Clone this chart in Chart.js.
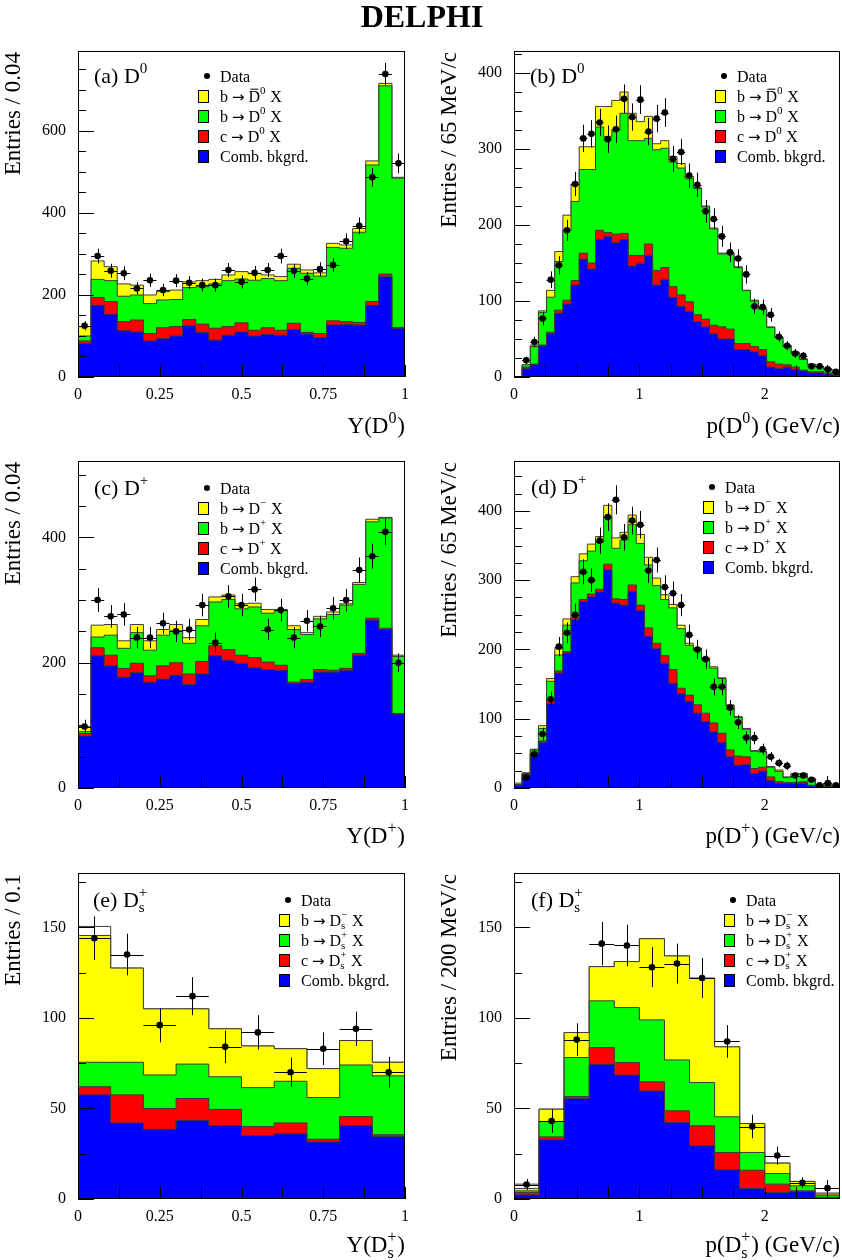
<!DOCTYPE html>
<html lang="en">
<head>
<meta charset="UTF-8">
<title>DELPHI - D meson spectra</title>
<script src="https://cdn.jsdelivr.net/npm/chart.js"></script>
<style>
  body { margin: 0; background: #fff; }
  #page { position: relative; width: 842px; height: 1260px; background: #fff; }
  #page canvas { position: absolute; left: 0; top: 0; }
</style>
</head>
<body>
<div id="page">
  <canvas id="pa" width="842" height="1260"></canvas>
  <canvas id="pb" width="842" height="1260"></canvas>
  <canvas id="pc" width="842" height="1260"></canvas>
  <canvas id="pd" width="842" height="1260"></canvas>
  <canvas id="pe" width="842" height="1260"></canvas>
  <canvas id="pf" width="842" height="1260"></canvas>
</div>

<script>
// ---- (a) D0 vs Y, bins of 0.04 ----
const aBkg    = [82,175,153,113,110,88,94,100,125,109,90,102,110,100,104,102,116,105,96,127,128,127,175,245,119];
const aCharm  = [6,19,31,22,29,18,26,23,15,20,29,21,22,14,16,12,15,4,10,10,7,6,9,6,2];
const aBRight = [12,44,51,62,61,73,68,66,78,91,108,112,107,122,120,121,134,144,140,179,179,220,333,459,364];
const aBWrong = [23,45,34,30,24,21,20,23,14,15,11,14,18,17,9,10,10,8,8,10,8,9,10,6,2];
const aData   = [125,295,259,253,216,236,212,235,230,224,224,261,232,254,261,295,259,240,263,273,331,369,487,739,521];
const aErr    = [11,18,17,17,15,16,15,16,16,16,16,17,16,17,17,18,17,16,17,17,19,20,23,27,24];

// ---- (b) D0 vs p, bins of 65 MeV/c ----
const bBkg    = [0,11,16,41,57,84,96,121,155,142,181,185,177,181,146,149,160,121,128,105,93,86,73,66,57,50,50,36,36,33,28,13,11,13,10,8,6,6,4,3];
const bCharm  = [0,2,1,1,2,4,5,6,8,8,12,5,11,8,14,11,15,19,16,14,15,13,9,10,11,16,13,8,8,7,8,7,6,3,3,1,1,1,1,1];
const bBRight = [0,3,23,43,46,64,92,104,110,123,136,126,137,158,151,151,139,159,157,164,167,162,166,148,127,96,99,100,70,60,53,45,35,25,19,14,9,6,5,4];
const bBWrong = [0,0,2,2,9,13,20,23,30,30,27,40,39,28,36,25,29,8,10,7,6,3,1,1,1,1,1,1,0,1,1,1,1,1,1,1,1,1,1,1];
const bData   = [null,22,46,77,128,147,193,254,314,320,335,313,326,366,342,365,323,340,348,287,296,265,253,218,208,185,164,156,135,93,92,82,53,41,31,28,14,14,10,7];
const bErr    = [0,5,7,9,11,12,14,16,18,18,18,18,18,19,18,19,18,18,19,17,17,16,16,15,14,14,13,12,12,10,10,9,7,6,6,5,4,4,3,3];

// ---- (c) D+ vs Y ----
const cBkg    = [83,211,195,177,184,169,174,180,165,182,211,204,199,192,189,188,167,169,185,185,188,212,268,253,118];
const cCharm  = [4,13,17,14,15,10,21,20,17,20,16,17,13,16,12,8,2,4,4,3,3,3,3,2,1];
const cBRight = [3,17,32,32,49,41,49,51,49,57,70,80,74,81,78,87,84,72,81,89,101,110,154,176,91];
const cBWrong = [8,19,17,12,13,15,9,10,9,10,8,7,8,6,6,2,6,3,4,4,2,3,4,1,2];
const cData   = [98,300,274,277,240,240,263,250,253,292,232,306,292,317,253,284,240,267,258,287,300,348,370,409,200];
const cErr    = [11,19,18,18,17,17,17,17,17,18,16,18,18,19,17,18,17,17,17,18,18,20,20,21,15];

// ---- (d) D+ vs p ----
const dBkg    = [4,19,49,66,122,166,195,243,269,276,283,315,267,264,284,256,219,201,180,151,136,125,108,96,81,66,45,33,34,21,24,11,7,7,7,7,3,2,2,1];
const dCharm  = [0,1,1,2,3,3,2,3,3,4,4,8,6,8,9,8,12,8,11,20,8,9,12,12,13,13,10,13,11,7,6,5,2,1,1,2,1,0,1,1];
const dBRight = [1,1,5,18,29,23,38,50,56,62,68,69,73,86,87,89,91,83,81,89,86,72,79,78,79,79,64,56,40,25,22,14,15,7,12,11,9,2,3,1];
const dBWrong = [2,1,1,4,4,9,9,9,10,10,8,16,15,11,14,13,11,11,7,5,5,3,3,2,2,1,1,1,1,1,1,1,2,1,1,1,1,1,1,1];
const dData   = [null,15,49,78,128,204,224,250,312,300,357,391,416,362,386,380,314,329,290,281,264,221,200,186,146,146,116,95,73,72,56,45,36,32,18,18,12,4,7,4];
const dErr    = [0,4,7,9,11,14,15,16,18,17,19,20,21,19,20,20,18,18,17,17,16,15,14,14,12,12,11,10,9,9,8,7,6,6,4,4,4,2,3,2];

// ---- (e) Ds+ vs Y, bins of 0.1 ----
const eBkg    = [57.5,42,38.5,43.5,40.5,35,36,31.5,40.5,34.5];
const eCharm  = [4.5,15.5,11.5,12,9,5,6,1.5,5,1];
const eBRight = [13.5,18,18.5,19,18,21.5,23,23,28.5,32.5];
const eBWrong = [70,52,36.5,30.5,26.5,23,18,16,13.5,7.5];
const eOther  = [5,0,0,0,0,0,0,0,0,0];
const eData   = [144,135,96,112,84,92,70,83,94,70];
const eErr    = [12,11.5,9.5,10.5,9,9.5,8,9,9.5,8.5];

// ---- (f) Ds+ vs p, bins of 200 MeV/c ----
const fBkg    = [2.3,32.7,55.5,74.4,68.4,59.7,42.2,29.4,16.1,5.8,3.6,4.2,0.3];
const fCharm  = [1.3,1.6,1.1,9.2,6.9,5,6.5,11,9.6,10.1,4.6,0.3,0.6];
const fBRight = [0.9,8.5,21.5,25.8,30.4,34.2,28.1,23.9,19.7,9.8,5.9,2.8,0.9];
const fBWrong = [1.3,6.8,13.8,18.9,25.4,44.8,57.4,57.6,38.6,16,5.7,2.4,0.9];
const fOther  = [2.4,0,0,0,0,0,0,0,0,0,0,0,0.6];
const fData   = [8,43,88,141,140,128,130,122,87,40,24,9,6];
const fErr    = [3,6.5,9,12,11.5,11,11,11,9,6.5,5,3,4.5];

const LAYER_NAMES  = ['Comb. bkgrd.', 'charm', 'b right sign', 'b wrong sign', 'other'];
const LAYER_COLORS = ['#0000ff', '#ff0000', '#00ff00', '#ffff00', '#ffffff'];
const LEGEND_COLORS = ['#ffff00', '#00ff00', '#ff0000', '#0000ff'];

const FONT = '"Liberation Serif", "Times New Roman", serif';
const ARROW_FONT = '"DejaVu Sans", sans-serif';
Chart.defaults.font.family = FONT;
Chart.defaults.color = '#000';

const PANELS = [
  { id: 'pa', l: 78, t: 51, r: 405, b: 377, bin: 0.04, xmax: 1, xStep: 0.125, xLab: 0.25,
    ymax: 795, yStep: 50, yLab: 200, layers: [aBkg, aCharm, aBRight, aBWrong], data: aData, err: aErr,
    label: '(a) D^{0}', labelX: 94, labelY: 83, legX: 198, legY: 76,
    entries: ['b → #bar{D}^{0} X', 'b → D^{0} X', 'c → D^{0} X', 'Comb. bkgrd.'],
    xtitle: 'Y(D^{0})', xTitleY: 433, ytitle: 'Entries / 0.04', yTitleX: 20, title: true },
  { id: 'pb', l: 514, t: 51, r: 840, b: 377, bin: 0.065, xmax: 2.6, xStep: 0.25, xLab: 1,
    ymax: 429, yStep: 25, yLab: 100, layers: [bBkg, bCharm, bBRight, bBWrong], data: bData, err: bErr,
    label: '(b) D^{0}', labelX: 530, labelY: 83, legX: 715, legY: 76,
    entries: ['b → #bar{D}^{0} X', 'b → D^{0} X', 'c → D^{0} X', 'Comb. bkgrd.'],
    xtitle: 'p(D^{0}) (GeV/c)', xTitleY: 433, ytitle: 'Entries / 65 MeV/c', yTitleX: 456 },
  { id: 'pc', l: 78, t: 461, r: 405, b: 788, bin: 0.04, xmax: 1, xStep: 0.125, xLab: 0.25,
    ymax: 522, yStep: 50, yLab: 200, layers: [cBkg, cCharm, cBRight, cBWrong], data: cData, err: cErr,
    label: '(c) D^{+}', labelX: 94, labelY: 495, legX: 198, legY: 488,
    entries: ['b → D^{−} X', 'b → D^{+} X', 'c → D^{+} X', 'Comb. bkgrd.'],
    xtitle: 'Y(D^{+})', xTitleY: 843, ytitle: 'Entries / 0.04', yTitleX: 20 },
  { id: 'pd', l: 514, t: 461, r: 840, b: 788, bin: 0.065, xmax: 2.6, xStep: 0.25, xLab: 1,
    ymax: 472, yStep: 25, yLab: 100, layers: [dBkg, dCharm, dBRight, dBWrong], data: dData, err: dErr,
    label: '(d) D^{+}', labelX: 531, labelY: 494, legX: 703, legY: 487,
    entries: ['b → D^{−} X', 'b → D^{+} X', 'c → D^{+} X', 'Comb. bkgrd.'],
    xtitle: 'p(D^{+}) (GeV/c)', xTitleY: 843, ytitle: 'Entries / 65 MeV/c', yTitleX: 456 },
  { id: 'pe', l: 78, t: 873, r: 405, b: 1199, bin: 0.1, xmax: 1, xStep: 0.125, xLab: 0.25,
    ymax: 180, yStep: 25, yLab: 50, layers: [eBkg, eCharm, eBRight, eBWrong, eOther], data: eData, err: eErr,
    label: '(e) D_{s}^{+}', labelX: 93, labelY: 907, legX: 279, legY: 900,
    entries: ['b → D_{s}^{−} X', 'b → D_{s}^{+} X', 'c → D_{s}^{+} X', 'Comb. bkgrd.'],
    xtitle: 'Y(D_{s}^{+})', xTitleY: 1252, ytitle: 'Entries / 0.1', yTitleX: 20 },
  { id: 'pf', l: 514, t: 873, r: 840, b: 1199, bin: 0.2, xmax: 2.6, xStep: 0.25, xLab: 1,
    ymax: 180, yStep: 25, yLab: 50, layers: [fBkg, fCharm, fBRight, fBWrong, fOther], data: fData, err: fErr,
    label: '(f) D_{s}^{+}', labelX: 531, labelY: 907, legX: 724, legY: 900,
    entries: ['b → D_{s}^{−} X', 'b → D_{s}^{+} X', 'c → D_{s}^{+} X', 'Comb. bkgrd.'],
    xtitle: 'p(D_{s}^{+}) (GeV/c)', xTitleY: 1252, ytitle: 'Entries / 200 MeV/c', yTitleX: 456 }
];

// tiny TLatex-like text: ^{..} superscript, _{..} subscript, #bar{..}
function parseTex(s) {
  const out = [];
  let buf = '', i = 0;
  const flush = () => { if (buf) { out.push({ t: 'txt', s: buf }); buf = ''; } };
  while (i < s.length) {
    if ((s[i] === '^' || s[i] === '_') && s[i + 1] === '{') {
      flush();
      const j = s.indexOf('}', i);
      out.push({ t: s[i] === '^' ? 'sup' : 'sub', s: s.slice(i + 2, j) });
      i = j + 1;
    } else if (s.startsWith('#bar{', i)) {
      flush();
      const j = s.indexOf('}', i);
      out.push({ t: 'bar', s: s.slice(i + 5, j) });
      i = j + 1;
    } else if (s[i] === '→') {
      flush();
      out.push({ t: 'arrow', s: '→' });
      i++;
    } else {
      buf += s[i++];
    }
  }
  flush();
  return out;
}

function layoutTex(ctx, str, size) {
  const toks = parseTex(str);
  const big = size + 'px ' + FONT;
  const small = Math.round(size * 0.7) + 'px ' + FONT;
  const arrow = Math.round(size * 0.95) + 'px ' + ARROW_FONT;
  const shift = t => (t === 'sup' ? -0.45 * size : 0.24 * size);
  const items = [];
  let x = 0;
  for (let k = 0; k < toks.length; k++) {
    const tk = toks[k];
    if (tk.t === 'sup' || tk.t === 'sub') {
      ctx.font = small;
      let w = ctx.measureText(tk.s).width;
      items.push({ s: tk.s, x: x, dy: shift(tk.t), font: small });
      const nx = toks[k + 1];
      if (nx && (nx.t === 'sup' || nx.t === 'sub') && nx.t !== tk.t) {
        items.push({ s: nx.s, x: x, dy: shift(nx.t), font: small });
        w = Math.max(w, ctx.measureText(nx.s).width);
        k++;
      }
      x += w + 0.04 * size;
    } else {
      const f = tk.t === 'arrow' ? arrow : big;
      ctx.font = f;
      const w = ctx.measureText(tk.s).width;
      items.push({ s: tk.s, x: x, dy: tk.t === 'arrow' ? 0.02 * size : 0, font: f, bar: tk.t === 'bar', w: w });
      x += w;
    }
  }
  return { items: items, width: x };
}

function drawTex(ctx, str, x, y, size, align) {
  const L = layoutTex(ctx, str, size);
  const x0 = align === 'right' ? x - L.width : (align === 'center' ? x - L.width / 2 : x);
  ctx.textAlign = 'left';
  ctx.textBaseline = 'alphabetic';
  ctx.fillStyle = '#000';
  L.items.forEach(it => {
    ctx.font = it.font;
    ctx.fillText(it.s, x0 + it.x, y + it.dy);
    if (it.bar) {
      const yb = y - 0.77 * size;
      ctx.beginPath();
      ctx.lineWidth = 1;
      ctx.strokeStyle = '#000';
      ctx.moveTo(x0 + it.x + 0.15 * it.w, yb);
      ctx.lineTo(x0 + it.x + 0.85 * it.w, yb);
      ctx.stroke();
    }
  });
}

function isMultiple(v, step) {
  const q = v / step;
  return Math.abs(q - Math.round(q)) < 1e-6;
}

function decor(p) {
  return {
    id: 'decor',
    beforeDatasetDraw(chart, args) {
      if (args.index !== 0) return;
      // error bars of the data points
      const ctx = chart.ctx, xs = chart.scales.x, ys = chart.scales.y, a = chart.chartArea;
      ctx.save();
      ctx.beginPath();
      ctx.rect(a.left, a.top, a.right - a.left, a.bottom - a.top);
      ctx.clip();
      ctx.strokeStyle = '#000';
      ctx.lineWidth = 1;
      p.data.forEach((v, i) => {
        if (v === null) return;
        const xl = xs.getPixelForValue(i * p.bin), xr = xs.getPixelForValue((i + 1) * p.bin);
        const xc = Math.round(xs.getPixelForValue((i + 0.5) * p.bin)) + 0.5;
        const yc = Math.round(ys.getPixelForValue(v)) + 0.5;
        ctx.beginPath();
        ctx.moveTo(xl, yc); ctx.lineTo(xr, yc);
        ctx.moveTo(xc, ys.getPixelForValue(v - p.err[i]));
        ctx.lineTo(xc, ys.getPixelForValue(v + p.err[i]));
        ctx.stroke();
      });
      ctx.restore();
    },
    afterDraw(chart) {
      const ctx = chart.ctx, xs = chart.scales.x, ys = chart.scales.y, a = chart.chartArea;
      ctx.save();
      ctx.strokeStyle = '#000';
      ctx.lineWidth = 1;
      // frame
      ctx.strokeRect(Math.round(a.left) + 0.5, Math.round(a.top) + 0.5,
                     Math.round(a.right - a.left) - 1, Math.round(a.bottom - a.top) - 1);
      // ticks inside the frame
      ctx.beginPath();
      ys.ticks.forEach(t => {
        const y = Math.round(ys.getPixelForValue(t.value)) + 0.5;
        const len = t.label ? 16 : 8;
        ctx.moveTo(a.left, y); ctx.lineTo(a.left + len, y);
      });
      xs.ticks.forEach(t => {
        const x = Math.round(xs.getPixelForValue(t.value)) + 0.5;
        ctx.moveTo(x, a.bottom); ctx.lineTo(x, a.bottom - 12);
      });
      ctx.stroke();

      // panel label
      drawTex(ctx, p.label, p.labelX, p.labelY, 22, 'left');

      // legend
      const pitch = 20;
      ctx.fillStyle = '#000';
      ctx.beginPath();
      ctx.arc(p.legX + 9, p.legY, 3, 0, Math.PI * 2);
      ctx.fill();
      drawTex(ctx, 'Data', p.legX + 22, p.legY + 5.5, 16, 'left');
      p.entries.forEach((lab, k) => {
        const cy = p.legY + (k + 1) * pitch;
        ctx.fillStyle = LEGEND_COLORS[k];
        ctx.fillRect(p.legX, cy - 6, 10, 12);
        ctx.strokeStyle = '#000';
        ctx.lineWidth = 1;
        ctx.strokeRect(p.legX + 0.5, cy - 5.5, 10, 12);
        drawTex(ctx, lab, p.legX + 22, cy + 5.5, 16, 'left');
      });

      // axis titles
      drawTex(ctx, p.xtitle, a.right, p.xTitleY, 23, 'right');
      ctx.save();
      ctx.translate(p.yTitleX, a.top + 1);
      ctx.rotate(-Math.PI / 2);
      drawTex(ctx, p.ytitle, 0, 0, 23, 'right');
      ctx.restore();

      if (p.title) {
        ctx.font = 'bold 32px ' + FONT;
        ctx.textAlign = 'center';
        ctx.textBaseline = 'alphabetic';
        ctx.fillStyle = '#000';
        ctx.fillText('DELPHI', 422, 27);
      }
      ctx.restore();
    }
  };
}

function buildPanel(p) {
  const n = p.data.length;
  const edge = i => Math.round(i * p.bin * 1e6) / 1e6;
  const datasets = [{
    label: 'Data',
    data: p.data.map((v, i) => ({ x: (i + 0.5) * p.bin, y: v })),
    showLine: false,
    pointRadius: 3.3,
    pointBackgroundColor: '#000',
    pointBorderColor: '#000',
    pointBorderWidth: 0
  }];
  let run = new Array(n).fill(0);
  p.layers.forEach((arr, k) => {
    run = run.map((v, i) => v + arr[i]);
    const pts = run.map((v, i) => ({ x: edge(i), y: v }));
    pts.push({ x: edge(n), y: run[n - 1] });
    datasets.push({
      label: LAYER_NAMES[k],
      data: pts,
      stepped: true,
      fill: 'origin',
      backgroundColor: LAYER_COLORS[k],
      borderColor: '#3a3a3a',
      borderWidth: 1,
      pointRadius: 0
    });
  });

  new Chart(document.getElementById(p.id), {
    type: 'line',
    data: { datasets: datasets },
    options: {
      responsive: false,
      animation: false,
      devicePixelRatio: 1,
      events: [],
      layout: {
        autoPadding: false,
        padding: { left: p.l - 70, top: p.t, right: 842 - p.r, bottom: 1260 - p.b - 45 }
      },
      plugins: { legend: { display: false }, tooltip: { enabled: false } },
      scales: {
        x: {
          type: 'linear', min: 0, max: p.xmax,
          grid: { display: false, drawTicks: false },
          border: { display: false },
          ticks: {
            stepSize: p.xStep, includeBounds: false, autoSkip: false,
            maxRotation: 0, minRotation: 0, padding: 8,
            font: { size: 16 }, color: '#000',
            callback: v => (isMultiple(v, p.xLab) ? String(Math.round(v * 1000) / 1000) : '')
          },
          afterFit: s => { s.height = 45; s.paddingLeft = 0; s.paddingRight = 0; }
        },
        y: {
          type: 'linear', min: 0, max: p.ymax,
          grid: { display: false, drawTicks: false },
          border: { display: false },
          ticks: {
            stepSize: p.yStep, includeBounds: false, autoSkip: false, padding: 12,
            font: { size: 16 }, color: '#000',
            callback: v => (isMultiple(v, p.yLab) ? String(v) : '')
          },
          afterFit: s => { s.width = 70; s.paddingTop = 0; s.paddingBottom = 0; }
        }
      }
    },
    plugins: [decor(p)]
  });
}

PANELS.forEach(buildPanel);
</script>
</body>
</html>
